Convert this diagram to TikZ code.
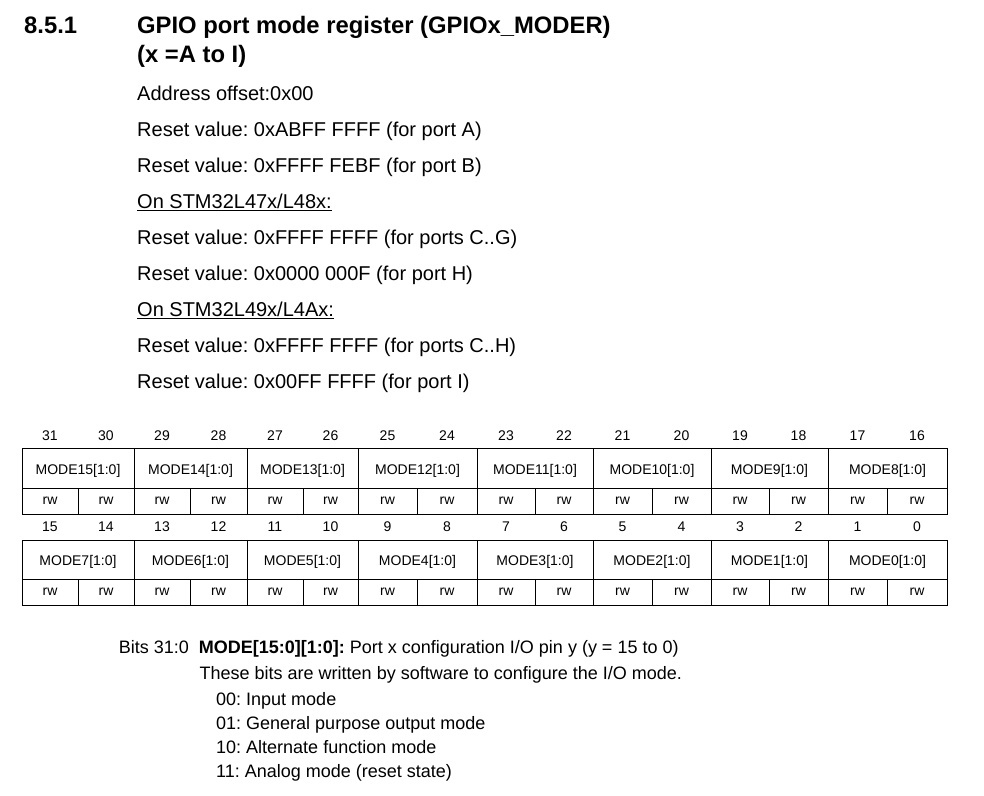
\documentclass[tikz,border=0pt]{standalone}
\usepackage{fontspec}
\setmainfont{Liberation Sans}
\frenchspacing
\begin{document}
\frenchspacing
\begin{tikzpicture}[x=1pt,y=-1pt,
  ttl/.style={inner sep=0,anchor=base west,font=\fontsize{23.8}{28}\selectfont\bfseries},
  txt/.style={inner sep=0,anchor=base west,font=\fontsize{20}{24}\selectfont},
  desc/.style={inner sep=0,anchor=base west,font=\fontsize{18}{22}\selectfont},
  cell/.style={inner sep=0,anchor=base,font=\fontsize{14}{16}\selectfont},
  grid/.style={line width=1pt},
  uline/.style={line width=1.3pt}]
\useasboundingbox (0,0) rectangle (984,795);
% title
\node[ttl] (sec) at (24,33) {8.5.1};
\node[ttl] (t1) at (137,33) {GPIO port mode register (GPIOx\_MODER)};
\node[ttl] (t2) at (137,62) {(x =A to I)};
% header lines
\node[txt] (l1) at (137,100) {Address offset:0x00};
\node[txt] (l2) at (137,136) {Reset value: 0xABFF FFFF (for port A)};
\node[txt] (l3) at (137,172) {Reset value: 0xFFFF FEBF (for port B)};
\node[txt] (l4) at (137,208) {On STM32L47x/L48x:};
\node[txt] (l5) at (137,244) {Reset value: 0xFFFF FFFF (for ports C..G)};
\node[txt] (l6) at (137,280) {Reset value: 0x0000 000F (for port H)};
\node[txt] (l7) at (137,316) {On STM32L49x/L4Ax:};
\node[txt] (l8) at (137,352) {Reset value: 0xFFFF FFFF (for ports C..H)};
\node[txt] (l9) at (137,388) {Reset value: 0x00FF FFFF (for port I)};
\draw[uline] ([yshift=-2.5pt]l4.base west) -- ([yshift=-2.5pt]l4.base east);
\draw[uline] ([yshift=-2.5pt]l7.base west) -- ([yshift=-2.5pt]l7.base east);
% register table: single-bit cells
\def\cols{22/78,78/134,134/190,190/247,247/303,303/358,358/417,417/477,477/535,535/593,593/652,652/711,711/769,769/828,828/887,887/947}
\foreach \l/\r [count=\i from 0] in \cols {
  \pgfmathtruncatemacro\ba{31-\i}
  \pgfmathtruncatemacro\bb{15-\i}
  \draw[grid] (\l,488) rectangle (\r,514);
  \draw[grid] (\l,579) rectangle (\r,605);
  \node[cell] (n\ba) at ({(\l+\r)/2},440.7) {\ba};
  \node[cell] (n\bb) at ({(\l+\r)/2},531.7) {\bb};
  \node[cell] (rwa\i) at ({(\l+\r)/2},504) {rw};
  \node[cell] (rwb\i) at ({(\l+\r)/2},595) {rw};
}
% two-bit field cells
\def\fields{22/134,134/247,247/358,358/477,477/593,593/711,711/828,828/947}
\foreach \l/\r [count=\k from 0] in \fields {
  \pgfmathtruncatemacro\ma{15-\k}
  \pgfmathtruncatemacro\mb{7-\k}
  \draw[grid] (\l,448) rectangle (\r,488);
  \draw[grid] (\l,540) rectangle (\r,579);
  \node[cell] (m\ma) at ({(\l+\r)/2},474.3) {MODE\ma[1:0]};
  \node[cell] (m\mb) at ({(\l+\r)/2},565.3) {MODE\mb[1:0]};
}
% description
\node[desc] (bits) at (118.7,653.3) {Bits 31:0};
\node[desc] (d1) at (198.7,653.3) {\textbf{MODE[15:0][1:0]:} Port x configuration I/O pin y (y = 15 to 0)};
\node[desc] (d2) at (199.5,679.3) {These bits are written by software to configure the I/O mode.};
\node[desc] (d3) at (216,705) {00: Input mode};
\node[desc] (d4) at (216,729.3) {01: General purpose output mode};
\node[desc] (d5) at (216,753.3) {10: Alternate function mode};
\node[desc] (d6) at (216,777.3) {11: Analog mode (reset state)};
\end{tikzpicture}
\end{document}
